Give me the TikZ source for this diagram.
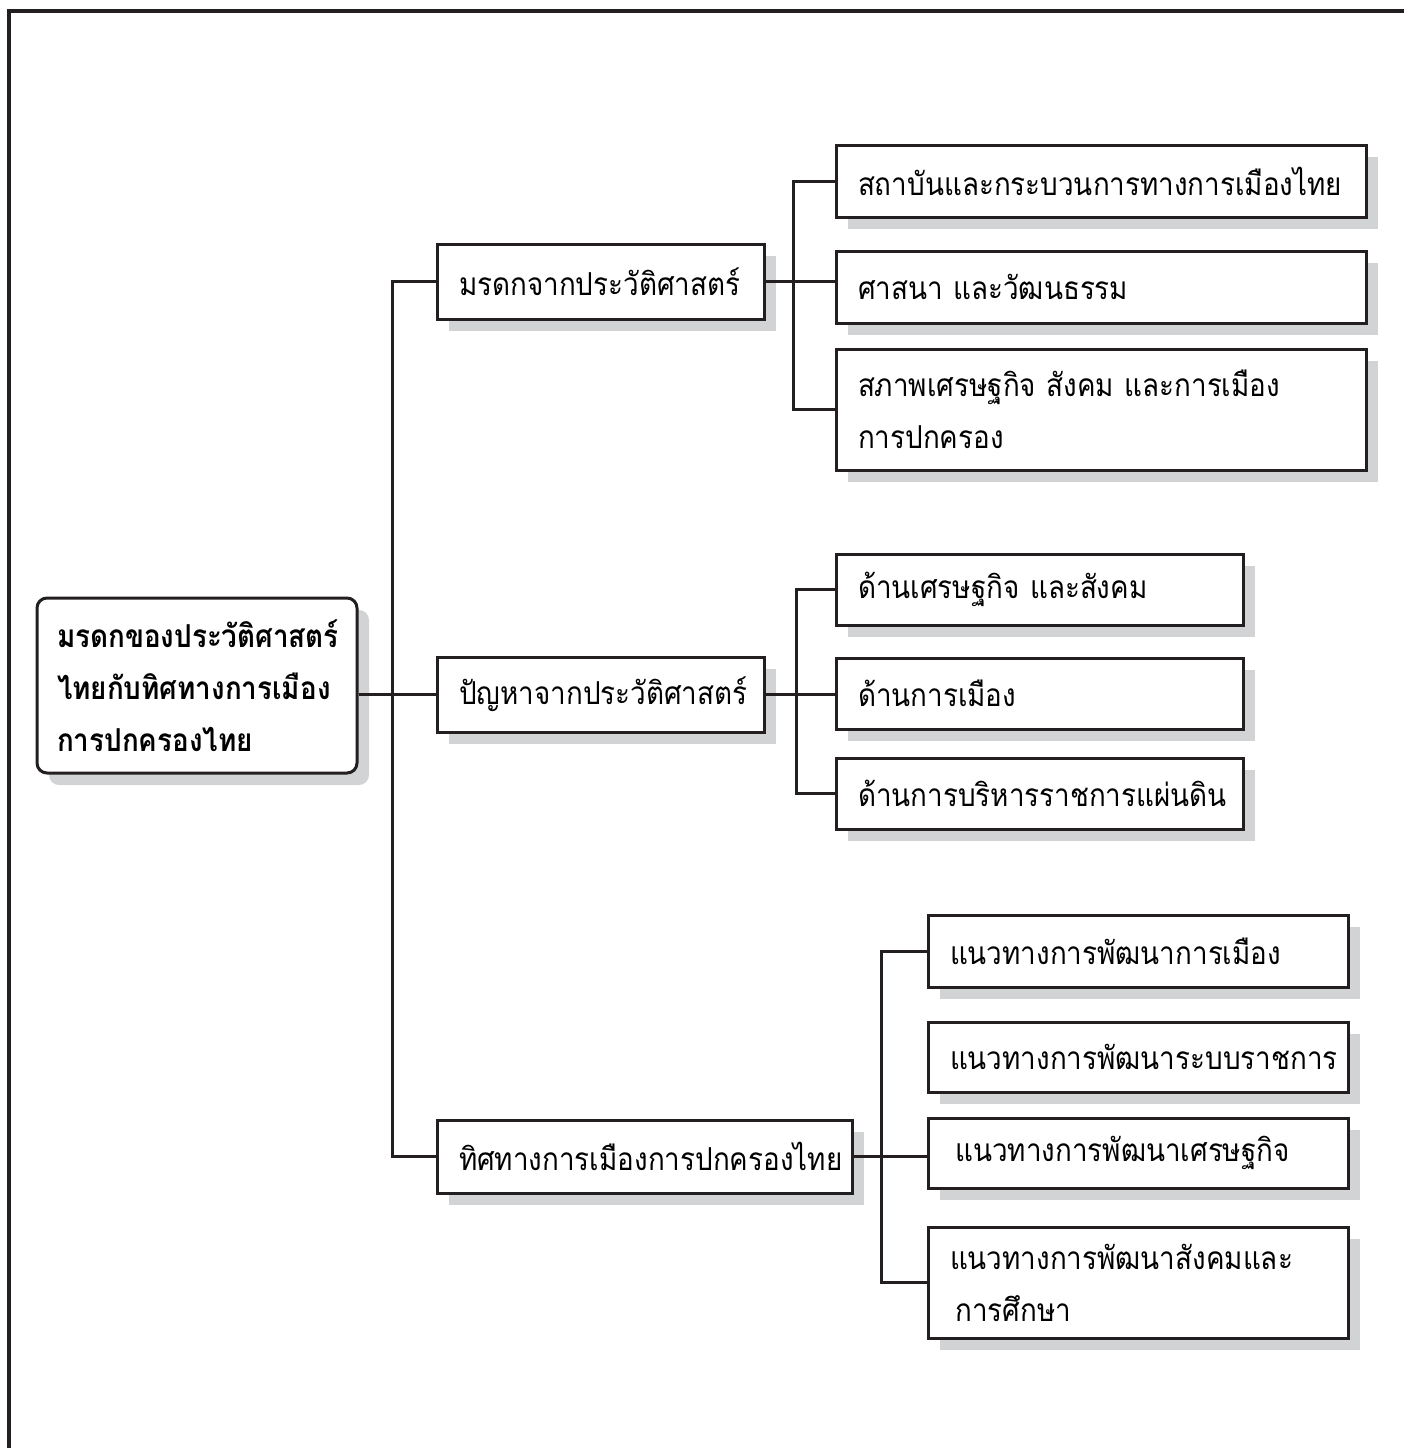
\documentclass[tikz,border=0pt]{standalone}
\usepackage{fontspec}
\usepackage{tikz}
\usetikzlibrary{shadows}
\newfontfamily\thaifont[Script=Thai, FakeStretch=0.88]{Loma}
\definecolor{LineBlack}{HTML}{231F20}
\definecolor{ShadowGray}{HTML}{D1D3D4}
\tikzset{
  box/.style={rectangle, draw=LineBlack, line width=1.5pt, fill=white,
    align=left, inner xsep=11pt, inner ysep=0pt,
    font=\thaifont\fontsize{15.8}{26}\selectfont,
    general shadow={fill=ShadowGray, shadow xshift=6pt, shadow yshift=-6pt}},
  rootbox/.style={box, rounded corners=5pt, inner xsep=10pt,
    font=\thaifont\bfseries\fontsize{15.8}{26}\selectfont},
  link/.style={draw=LineBlack, line width=1.5pt},
  frame/.style={draw=LineBlack, line width=2pt}
}

\begin{document}
\begin{tikzpicture}[x=0.5pt, y=-0.5pt]
\useasboundingbox (0,0) rectangle (1404,1448);

\draw[frame] (9,1448) -- (9,11) -- (1404,11);

\node[rootbox, text width=140pt, minimum height=87.5pt] (root) at (197,685.5) {
มรดกของประวัติศาสตร์\\
ไทยกับทิศทางการเมือง\\
การปกครองไทย
};

% first level
\node[box, text width=141.5pt, minimum height=37.5pt] (heritage) at (600.5,281.5) {มรดกจากประวัติศาสตร์};
\node[box, text width=141.5pt, minimum height=37.5pt] (problems) at (600.5,694.5) {ปัญหาจากประวัติศาสตร์};
\node[box, text width=185.5pt, minimum height=36.5pt] (direction) at (644.5,1156.5) {ทิศทางการเมืองการปกครองไทย};

% heritage branch
\node[box, text width=243pt, minimum height=36pt] (institutions) at (1101,181) {สถาบันและกระบวนการทางการเมืองไทย};
\node[box, text width=243pt, minimum height=36pt] (religion) at (1101,287) {ศาสนา และวัฒนธรรม};
\node[box, text width=243pt, minimum height=60.5pt] (conditions) at (1101,409.5) {สภาพเศรษฐกิจ สังคม และการเมือง\\การปกครอง};

% problems branch
\node[box, text width=181.5pt, minimum height=35.5pt] (economy) at (1039.5,589.5) {ด้านเศรษฐกิจ และสังคม};
\node[box, text width=181.5pt, minimum height=35.5pt] (politics) at (1039.5,693.5) {ด้านการเมือง};
\node[box, text width=181.5pt, minimum height=35.5pt] (administration) at (1039.5,793.5) {ด้านการบริหารราชการแผ่นดิน};

% direction branch
\node[box, text width=188pt, minimum height=36pt] (devpolitics) at (1138,951) {แนวทางการพัฒนาการเมือง};
\node[box, text width=188pt, minimum height=35pt] (devbureau) at (1138,1057) {แนวทางการพัฒนาระบบราชการ};
\node[box, text width=188pt, minimum height=35pt] (deveconomy) at (1138,1153) {\,แนวทางการพัฒนาเศรษฐกิจ};
\node[box, text width=188pt, minimum height=55.5pt] (devsociety) at (1138,1282.5) {แนวทางการพัฒนาสังคมและ\\\,การศึกษา};

\draw[link] (root.east |- problems.west) -- (problems.west);
\draw[link] (heritage.west) -- ++(-43,0) |- (direction.west);

\draw[link] (heritage.east) -- (heritage.east -| religion.west);
\draw[link] (institutions.west) -- ++(-41,0) |- (conditions.west);

\draw[link] (problems.east) -- (problems.east -| politics.west);
\draw[link] (economy.west) -- ++(-38,0) |- (administration.west);

\draw[link] (direction.east) -- (direction.east -| deveconomy.west);
\draw[link] (devpolitics.west) -- ++(-45,0) |- (devsociety.west);

\end{tikzpicture}
\end{document}
